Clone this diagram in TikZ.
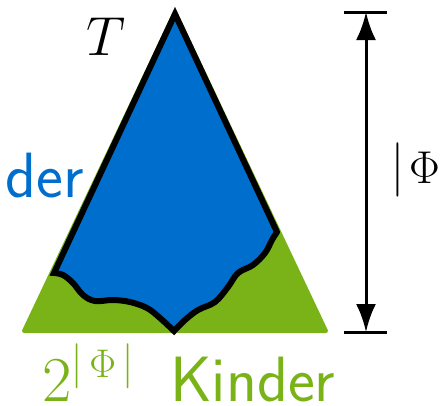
\RequirePackage{fix-cm}
\documentclass[tikz,border=0pt]{standalone}
\usepackage{graphicx}
\usetikzlibrary{arrows.meta}
\definecolor{tgreen}{RGB}{122,179,23}
\definecolor{tblue}{RGB}{0,110,205}
\DeclareMathSizes{64}{64}{40}{30}
\newcommand{\tallbar}[1]{\scalebox{1}[#1]{$|$}}
\newcommand{\tallsbar}[1]{\scalebox{1}[#1]{$\scriptstyle|$}}
\begin{document}
\begin{tikzpicture}[x=1pt,y=-1pt,
  lbl/.style={inner sep=0pt},
  outline/.style={draw=black,line width=6pt,line join=miter,line cap=round},
  wave/.style={smooth,tension=0.6},
  measure/.style={line width=3pt}]
\useasboundingbox (0,0) rectangle (445,405);
% green triangle
\filldraw[fill=tgreen,draw=tgreen,line width=4pt,line join=round]
  (175,12) -- (24,331) -- (326,331) -- cycle;
% blue part with black outline
\filldraw[fill=tblue,outline] (277,232) -- (175,14) -- (54,273)
  -- plot[wave] coordinates {(54,273) (63,275) (73,283) (83,295) (95,301) (113,300) (130,302) (147,308) (160,318) (174,331)}
  -- plot[wave] coordinates {(174,331) (185,320) (198,310) (215,302) (228,287) (238,273) (253,265) (265,253) (272,240) (277,232)};
% measure arrow
\coordinate (atop) at (366,12);
\coordinate (abot) at (366,332);
\draw[measure] (344,12) -- (387,12);
\draw[measure] (344,332) -- (387,332);
\draw[measure,{Latex[length=28pt,width=20pt]}-{Latex[length=28pt,width=20pt]}] (atop) -- (abot);
% labels
\node[lbl,font=\fontsize{55}{55}\selectfont] (T) at (106,37) {$T$};
\node[lbl,anchor=base east,text=tblue,font=\fontsize{64}{64}\selectfont\sffamily] (der) at (84,197) {der};
\node[lbl,anchor=base west,font=\fontsize{46}{46}\selectfont] (phi) at (391,183) {$\tallbar{1.18}\mkern2mu\Phi$};
\node[lbl,anchor=base west,text=tgreen,font=\fontsize{64}{64}\selectfont] (two) at (42,401) {$2^{\tallsbar{1.125}\mkern3mu\Phi\mkern3mu\tallsbar{1.125}}$};
\node[lbl,anchor=base west,text=tgreen,font=\fontsize{64}{64}\selectfont\sffamily] (kinder) at (170,401) {Kinder};
\end{tikzpicture}
\end{document}
